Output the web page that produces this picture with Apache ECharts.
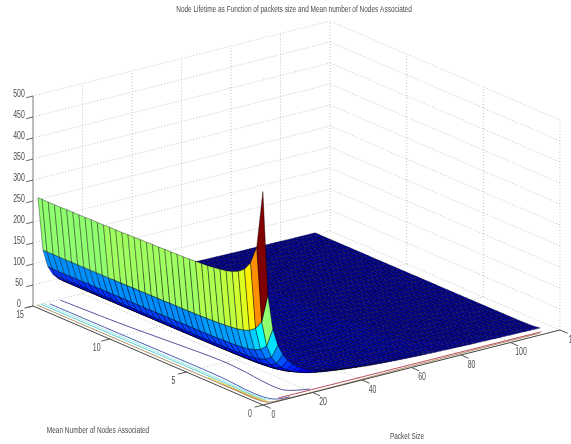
<!DOCTYPE html>
<html>
<head>
<meta charset="utf-8">
<style>html,body{margin:0;padding:0;background:#fff}#c{width:571px;height:444px}</style>
<script src="https://cdn.jsdelivr.net/npm/echarts@6/dist/echarts.min.js"></script>
</head>
<body>
<div id="c"></div>
<script>
// ---------- data ----------
const titleText = 'Node Lifetime as Function of packets size and Mean number of Nodes Associated';
const xName = 'Packet Size';
const yName = 'Mean Number of Nodes Associated';
const xTicks = [0, 20, 40, 60, 80, 100, 120];
const yTicks = [0, 5, 10, 15];
const zTicks = [0, 50, 100, 150, 200, 250, 300, 350, 400, 450, 500];

const packetSizes = [2,4,6,8,10,12,14,16,18,20,22,24,26,28,30,32,34,36,38,40,42,44,46,48,50,52,54,56,58,60,62,64,66,68,70,72,74,76,78,80,82,84,86,88,90,92,94,96,98,100,102,104,106,108,110,112,114];
const lifetimeByPacket = [250,125,83.3,62.5,50,41.7,35.7,31.3,27.8,25,22.7,20.8,19.2,17.9,16.7,15.6,14.7,13.9,13.2,12.5,11.9,11.4,10.9,10.4,10,9.6,9.3,8.9,8.6,8.3,8.1,7.8,7.6,7.4,7.1,6.9,6.8,6.6,6.4,6.3,6.1,6,5.8,5.7,5.6,5.4,5.3,5.2,5.1,5,4.9,4.8,4.7,4.6,4.5,4.5,4.4];
const meanNodes = [0.33,0.73,1.13,1.53,1.93,2.33,2.73,3.13,3.53,3.93,4.33,4.73,5.13,5.53,5.93,6.33,6.73,7.13,7.53,7.93,8.33,8.73,9.13,9.53,9.93,10.33,10.73,11.13,11.53,11.93,12.33,12.73,13.13,13.53,13.93,14.33,14.73,15];
const crestLifetime = [500,362,318,296,285,278,274,271,269,267,266,265,264,263,263,262,262,261,261,260,260,259,259,258,258,258,257,257,257,256,256,256,256,255,255,255,255,255];

const contourPurple = [[10.4,14.9],[12,11],[14,8],[15.6,5.3],[15,3.5],[14,2.4],[13.8,1.1],[16,0.7],[21.4,0.4]];
const contourBlue = [[5.5,14.8],[5.7,9],[5.8,3.7],[4.6,1.4],[6.1,0.33],[11.8,0.14]];
const contourLightCyan = [[4.2,15],[4.4,8],[4.3,3],[3.8,1],[5,0.3]];
const contourCyan = [[3.1,15],[3.3,8],[3.3,3],[3,1],[3.6,0.4]];
const contourYellow = [[2.4,4],[2.4,1.5],[2.7,0.6],[3.6,0.3]];
const contourOrange = [[2,3],[2,1.2],[2.2,0.4],[3,0.2]];
const contourTan = [[1.6,15],[1.7,8],[1.7,2],[1.9,0.5],[4.5,0.07],[60,0.13],[113,0.19]];
const contourRed = [[8,0.3],[60,0.29],[114.3,0.28]];

const contours = [
  [contourPurple, '#54549c'], [contourBlue, '#4a62ae'], [contourLightCyan, '#a8e8e8'],
  [contourCyan, '#58cfd4'], [contourYellow, '#e8d840'], [contourOrange, '#e09030'],
  [contourTan, '#b09068'], [contourRed, '#bb4a5c']
];

// ---------- view of the 3-D box ----------
const view = { ox: 263, oy: 405, xx: 2.475, xy: -0.625, yx: -15.33, yy: -6.6, zy: -0.42 };
const xMax = 120, yMax = 15, zMax = 500;
function project(x, y, z) {
  return [view.ox + view.xx * x + view.yx * y, view.oy + view.xy * x + view.yy * y + view.zy * z];
}
function jet(v) {
  const n = 64, k = Math.min(n - 1, Math.floor(v * n)), t = (k + 1) / n;
  const f = c => Math.round(255 * Math.max(0, Math.min(1, 1.5 - Math.abs(4 * t - c))));
  return 'rgb(' + f(3) + ',' + f(2) + ',' + f(1) + ')';
}

// ---------- build the marks ----------
const gridSegs = [];
zTicks.forEach(z => {
  gridSegs.push([[0, yMax, z], [xMax, yMax, z]]);
  gridSegs.push([[xMax, yMax, z], [xMax, 0, z]]);
});
xTicks.forEach(x => {
  gridSegs.push([[x, yMax, 0], [x, yMax, zMax]]);
  if (x > 0 && x < xMax) gridSegs.push([[x, 0, 0], [x, yMax, 0]]);
});
yTicks.forEach(y => {
  if (y < yMax) gridSegs.push([[xMax, y, 0], [xMax, y, zMax]]);
  if (y > 0 && y < yMax) gridSegs.push([[0, y, 0], [xMax, y, 0]]);
});

const faces = [];
for (let i = packetSizes.length - 2; i >= 0; i--) {
  for (let j = meanNodes.length - 2; j >= 0; j--) faces.push([i, j]);
}
const height = (i, j) => lifetimeByPacket[i] * crestLifetime[j] / 250;

const axisSegs = [
  { a: [0, 0, 0], b: [xMax, 0, 0], c: '#444444', w: 1 },
  { a: [0, 0, 0], b: [0, yMax, 0], c: '#444444', w: 1 },
  { a: [0, yMax, 0], b: [0, yMax, zMax], c: '#a8a8a8', w: 1.5 }
];
xTicks.forEach(x => axisSegs.push({ a: [x, 0, 0], b: [x, -0.5, 0], c: '#555555', w: 1 }));
yTicks.forEach(y => axisSegs.push({ a: [0, y, 0], b: [-3.4, y, 0], c: '#555555', w: 1 }));
zTicks.forEach(z => axisSegs.push({ a: [0, yMax, z], b: [-2.8, yMax, z], c: '#666666', w: 1 }));

const labels = [];
xTicks.forEach(x => { const p = project(x, 0, 0); labels.push([p[0] + (x === xMax ? 14.5 : 10.5), p[1] + 10, String(x)]); });
yTicks.forEach(y => { const p = project(0, y, 0); labels.push([p[0] - 13, p[1] + 9.5, String(y)]); });
zTicks.forEach(z => { const p = project(0, yMax, z); labels.push([p[0] - 14, p[1] - 2, String(z)]); });
const nameLabels = [[98, 431, yName], [407, 437, xName], [294, 10, titleText]];

const fontFamily = '"Liberation Sans","Arial",sans-serif';
function textEl(api, d, size, sx) {
  const p = api.coord([d[0], d[1]]);
  return { type: 'text', x: p[0], y: p[1], scaleX: sx, style: { text: d[2], fontSize: size, fontFamily, fill: '#4a4a4a', align: 'center', verticalAlign: 'middle' } };
}
function base(extra) {
  return Object.assign({ type: 'custom', coordinateSystem: 'cartesian2d', clip: false, animation: false, silent: true, progressive: 0 }, extra);
}

const chart = echarts.init(document.getElementById('c'), null, { renderer: 'canvas' });
chart.setOption({
  animation: false,
  backgroundColor: '#fff',
  grid: { left: 0, right: 0, top: 0, bottom: 0 },
  xAxis: { type: 'value', min: 0, max: 571, show: false },
  yAxis: { type: 'value', min: 0, max: 444, inverse: true, show: false },
  series: [
    base({
      data: gridSegs.map((s, i) => [i]),
      z: 1,
      renderItem: (params, api) => {
        const s = gridSegs[params.dataIndex];
        const a = api.coord(project(...s[0])), b = api.coord(project(...s[1]));
        return { type: 'line', shape: { x1: a[0], y1: a[1], x2: b[0], y2: b[1] },
          style: { stroke: '#b4b4b4', lineWidth: 0.8, lineDash: [1, 2], fill: null } };
      }
    }),
    base({
      data: contours.map((c, i) => [i]),
      z: 2,
      renderItem: (params, api) => {
        const c = contours[params.dataIndex];
        return { type: 'polyline', shape: { points: c[0].map(q => api.coord(project(q[0], q[1], 0))), smooth: 0.35 },
          style: { stroke: c[1], lineWidth: 1, fill: null } };
      }
    }),
    base({
      data: axisSegs.map((s, i) => [i]),
      z: 3,
      renderItem: (params, api) => {
        const s = axisSegs[params.dataIndex];
        const a = api.coord(project(...s.a)), b = api.coord(project(...s.b));
        return { type: 'line', shape: { x1: a[0], y1: a[1], x2: b[0], y2: b[1] },
          style: { stroke: s.c, lineWidth: s.w, fill: null } };
      }
    }),
    base({
      data: faces,
      z: 4,
      renderItem: (params, api) => {
        const i = api.value(0), j = api.value(1);
        const pts = [[i, j], [i + 1, j], [i + 1, j + 1], [i, j + 1]].map(q =>
          api.coord(project(packetSizes[q[0]], meanNodes[q[1]], height(q[0], q[1]))));
        const h = height(i, j);
        return { type: 'polygon', shape: { points: pts },
          style: { fill: jet(h / zMax), stroke: h < 20 ? 'rgba(0,0,30,0.75)' : 'rgba(0,0,0,0.75)', lineWidth: 0.5 } };
      }
    }),
    base({
      data: labels,
      z: 5,
      renderItem: (params, api) => textEl(api, labels[params.dataIndex], 10.5, 0.66)
    }),
    base({
      data: nameLabels,
      z: 5,
      renderItem: (params, api) => textEl(api, nameLabels[params.dataIndex], 9, 0.72)
    })
  ]
});
</script>
</body>
</html>
